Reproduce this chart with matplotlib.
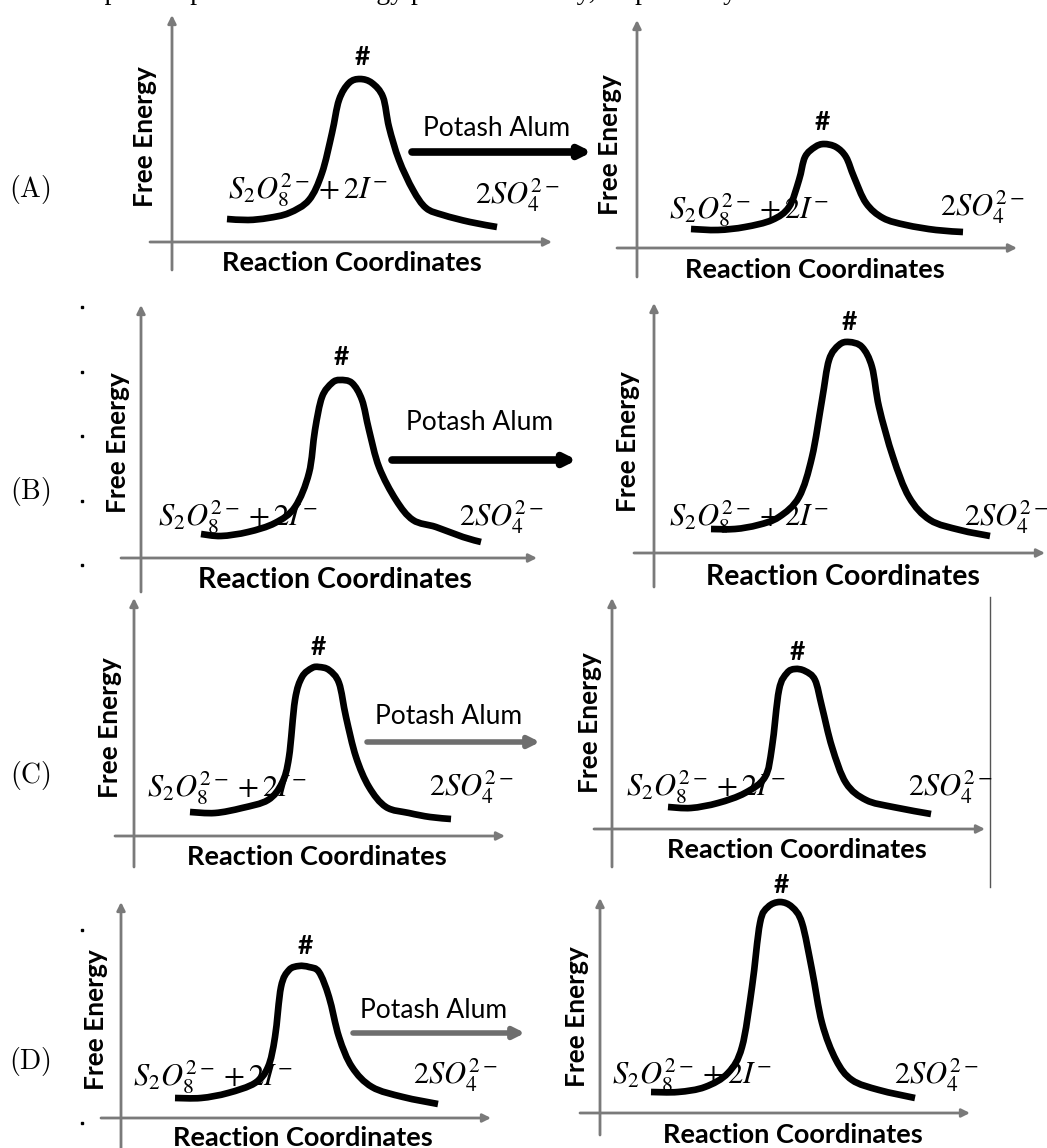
import numpy as np
import matplotlib
matplotlib.use("Agg")
import matplotlib.pyplot as plt
from matplotlib.path import Path
from matplotlib.patches import PathPatch

W, H = 1047, 1148

# reaction coordinate / free energy
# (units = picture pixels, measured from the axis origin of that panel)
a1_x = [55, 76, 96, 117, 137, 150, 160, 167, 177, 188, 200, 211, 217, 227, 241, 254, 271, 298, 325]
a1_y = [23, 22, 24, 29, 42, 69, 109, 142, 159, 163, 159, 145, 115, 82, 52, 34, 27, 20, 15]
a2_x = [54, 81, 108, 135, 152, 162, 168, 178, 187, 199, 209, 217, 229, 246, 269, 299, 326]
a2_y = [19, 18, 21, 28, 41, 68, 91, 101, 104, 101, 91, 71, 45, 30, 23, 18, 16]

b1_x = [60, 80, 107, 134, 154, 168, 174, 181, 191, 199, 211, 221, 228, 238, 255, 272, 295, 322, 340]
b1_y = [24, 22, 26, 35, 51, 85, 128, 161, 175, 178, 175, 158, 128, 91, 58, 38, 31, 21, 16]
b2_x = [57, 81, 104, 125, 145, 158, 168, 175, 185, 195, 208, 218, 225, 239, 255, 276, 306, 336]
b2_y = [24, 24, 28, 36, 56, 96, 153, 193, 208, 211, 206, 186, 146, 96, 56, 33, 23, 17]

c1_x = [56, 81, 108, 134, 148, 155, 161, 168, 178, 185, 195, 205, 212, 222, 235, 252, 275, 296, 317]
c1_y = [24, 23, 28, 36, 53, 79, 136, 159, 168, 169, 166, 153, 119, 79, 49, 29, 23, 19, 17]
c2_x = [56, 79, 106, 133, 153, 160, 167, 175, 183, 193, 203, 210, 220, 234, 254, 281, 319]
c2_y = [22, 21, 26, 36, 52, 82, 139, 156, 160, 158, 149, 122, 82, 46, 29, 22, 15]

d1_x = [54, 80, 107, 134, 147, 154, 160, 168, 178, 188, 198, 208, 218, 231, 251, 282, 317]
d1_y = [20, 20, 25, 35, 51, 81, 131, 148, 152, 151, 146, 121, 81, 51, 31, 21, 14]
d2_x = [51, 78, 105, 128, 142, 152, 160, 168, 180, 192, 202, 212, 222, 236, 252, 279, 315]
d2_y = [21, 21, 26, 40, 66, 126, 190, 206, 211, 206, 190, 143, 90, 53, 33, 23, 15]

row_labels = ["(A)", "(B)", "(C)", "(D)"]
reactant_label = r"$S_2O_8^{2-} + 2I^{-}$"
product_label = r"$2SO_4^{2-}$"
catalyst_label = "Potash Alum"

plt.rcParams["mathtext.fontset"] = "stix"

fig = plt.figure(figsize=(W / 100, H / 100), dpi=100)
bg = fig.add_axes([0, 0, 1, 1])
bg.set_xlim(0, W)
bg.set_ylim(H, 0)
bg.axis("off")


def smooth_path(xs, ys):
    # catmull-rom through the read points, drawn as cubic beziers
    p = np.column_stack([xs, ys]).astype(float)
    p = np.vstack([p[0], p, p[-1]])
    verts = [p[1]]
    codes = [Path.MOVETO]
    for i in range(1, len(p) - 2):
        c1 = p[i] + (p[i + 1] - p[i - 1]) / 6
        c2 = p[i + 1] - (p[i + 2] - p[i]) / 6
        verts += [c1, c2, p[i + 1]]
        codes += [Path.CURVE4] * 3
    return Path(verts, codes)


def panel(xs, ys, org, xspan, yspan, fe, tsmark, reac, prod, rc, rc_size=19.5):
    ox, oy = org
    x0, x1 = xspan
    ytop, ybot = yspan
    ax = fig.add_axes([x0 / W, (H - ybot) / H, (x1 - x0) / W, (ybot - ytop) / H])
    ax.set_xlim(x0 - ox, x1 - ox)
    ax.set_ylim(oy - ybot, oy - ytop)
    ax.axis("off")
    ax.patch.set_alpha(0)
    grey = "#7a7a7a"
    ax.annotate("", xy=(x1 - ox, 0), xytext=(x0 - ox, 0),
                arrowprops=dict(arrowstyle="-|>", color=grey, lw=2, mutation_scale=12,
                                shrinkA=0, shrinkB=0))
    ax.annotate("", xy=(0, oy - ytop), xytext=(0, oy - ybot),
                arrowprops=dict(arrowstyle="-|>", color=grey, lw=2, mutation_scale=12,
                                shrinkA=0, shrinkB=0))
    ax.add_patch(PathPatch(smooth_path(xs, ys), fill=False, lw=4.8, color="black",
                           capstyle="butt", joinstyle="round"))
    ax.text(fe[0], fe[1], "Free Energy", rotation=90, ha="center", va="center",
            family="Lato", weight="bold", fontsize=19, clip_on=False)
    ax.text(tsmark[0], tsmark[1], "#", ha="center", va="center", family="Lato",
            weight="bold", fontsize=19, clip_on=False)
    ax.text(reac[0], reac[1], reactant_label, ha="center", va="center",
            fontsize=22, clip_on=False)
    ax.text(prod[0], prod[1], product_label, ha="center", va="center",
            fontsize=22, clip_on=False)
    ax.text(rc[0], rc[1], "Reaction Coordinates", ha="center", va="center",
            family="Lato", weight="bold", fontsize=rc_size, clip_on=False)
    return ax


panel(a1_x, a1_y, (172, 242), (150, 552), (15, 270), (-27, 105), (190, 185), (136, 52), (345, 47), (180, -21))
panel(a2_x, a2_y, (637, 248), (617, 1017), (20, 277), (-27, 103), (185, 126), (112, 38), (345, 41), (178, -22))
panel(b1_x, b1_y, (141, 558), (121, 537), (305, 592), (-23, 115), (200, 201), (97, 41), (360, 41), (194, -22), 20.5)
panel(b2_x, b2_y, (654, 553), (634, 1045), (303, 587), (-26, 111), (195, 231), (95, 36), (352, 36), (189, -24), 20.5)
panel(c1_x, c1_y, (134, 836), (115, 505), (598, 867), (-24, 108), (184, 189), (93, 48), (337, 49), (183, -21))
panel(c2_x, c2_y, (612, 829), (594, 985), (598, 867), (-22, 106), (185, 177), (94, 42), (338, 42), (185, -21))
panel(d1_x, d1_y, (121, 1118), (101, 491), (902, 1148), (-25, 98), (184, 172), (92, 41), (334, 43), (182, -20))
panel(d2_x, d2_y, (600, 1113), (580, 970), (898, 1135), (-23, 96), (181, 228), (92, 38), (336, 38), (193, -22))

# catalyst arrows between the two diagrams of each option
arrow_rows = [(412, 592, 152, 128, "black", 5.5),
              (392, 577, 460, 422, "black", 5.5),
              (367, 540, 742, 717, "#6e6e6e", 4),
              (353, 525, 1033, 1010, "#6e6e6e", 4)]
for xa, xb, ya, yt, col, lw in arrow_rows:
    bg.annotate("", xy=(xb, ya), xytext=(xa, ya),
                arrowprops=dict(arrowstyle="-|>", color=col, lw=lw, mutation_scale=16,
                                shrinkA=0, shrinkB=0))
    bg.text((xa + xb) / 2 - 5, yt, catalyst_label, ha="center", va="center",
            family="Lato", fontsize=19)

for lab, yy in zip(row_labels, [190, 492, 775, 1062]):
    bg.text(30, yy, r"$\mathrm{" + lab + "}$", ha="center", va="center",
            math_fontfamily="cm", fontsize=20)

# cut-off question line at the very top (only the descenders stay on the page)
bg.text(10, -1, "Which option represents the energy profile correctly, respectively?",
        ha="left", va="baseline", family="Liberation Serif", fontsize=20)

# scan specks and border line
bg.plot([82] * 5, [307, 372, 436, 501, 565], ls="none", marker="s", ms=1.5, color="black")
bg.plot([82, 82], [930, 1123], ls="none", marker="s", ms=1.5, color="black")
bg.plot([990, 990], [597, 887], color="#555555", lw=1)

fig.savefig("out.png", dpi=100)
